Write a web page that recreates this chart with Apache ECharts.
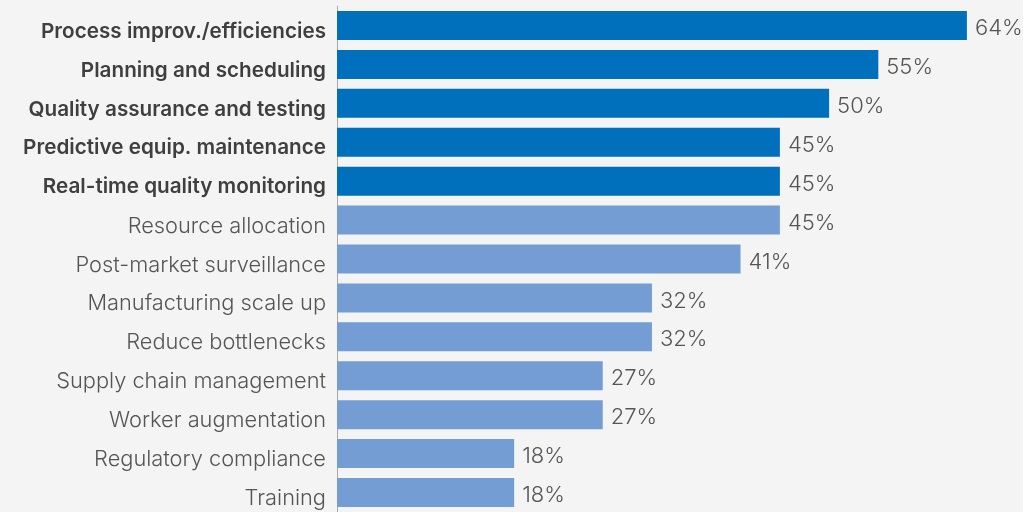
<!DOCTYPE html>
<html>
<head>
<meta charset="utf-8">
<style>
  html, body { margin: 0; padding: 0; background: #f3f4f3; }
  #chart { width: 1023px; height: 512px; }
</style>
<script src="https://cdn.jsdelivr.net/npm/echarts@6/dist/echarts.min.js"></script>
</head>
<body>
<div id="chart"></div>
<script>
// Use cases, top to bottom
const categories = [
  'Process improv./efficiencies',
  'Planning and scheduling',
  'Quality assurance and testing',
  'Predictive equip. maintenance',
  'Real-time quality monitoring',
  'Resource allocation',
  'Post-market surveillance',
  'Manufacturing scale up',
  'Reduce bottlenecks',
  'Supply chain management',
  'Worker augmentation',
  'Regulatory compliance',
  'Training'
];
// Share of respondents (%)
const values = [64, 55, 50, 45, 45, 45, 41, 32, 32, 27, 27, 18, 18];
// Top entries highlighted in bold / darker blue
const highlighted = [true, true, true, true, true, false, false, false, false, false, false, false, false];

const FONT = 'Inter';
const DARK = '#0070bd';
const LIGHT = '#749dd4';

const chart = echarts.init(document.getElementById('chart'), null, { renderer: 'canvas' });

chart.setOption({
  backgroundColor: '#f3f4f3',
  animation: false,
  grid: { left: 337, width: 689, top: 6, height: 509, containLabel: false },
  xAxis: {
    type: 'value', min: 0, max: 69.7,
    show: false
  },
  yAxis: {
    type: 'category',
    inverse: true,
    data: categories,
    axisLine: { show: true, lineStyle: { color: '#a8a8a8', width: 1 } },
    axisTick: { show: false },
    splitLine: { show: false },
    axisLabel: {
      margin: 11,
      formatter: (v, i) => highlighted[i] ? '{b|' + v + '}' : '{n|' + v + '}',
      rich: {
        b: { fontFamily: FONT, fontSize: 20.7, fontWeight: 600, color: '#3f3f3f', padding: [12, 0, 0, 0] },
        n: { fontFamily: FONT, fontSize: 21.8, fontWeight: 300, color: '#555555', padding: [12, 0, 0, 0] }
      }
    }
  },
  series: [{
    type: 'bar',
    barWidth: 29,
    data: values.map((v, i) => ({ value: v, itemStyle: { color: highlighted[i] ? DARK : LIGHT } })),
    label: {
      show: true,
      position: 'right',
      distance: 8,
      offset: [0, 3],
      formatter: '{c}%',
      fontFamily: FONT,
      fontSize: 22,
      fontWeight: 300,
      color: '#555555'
    }
  }]
});
</script>
</body>
</html>
